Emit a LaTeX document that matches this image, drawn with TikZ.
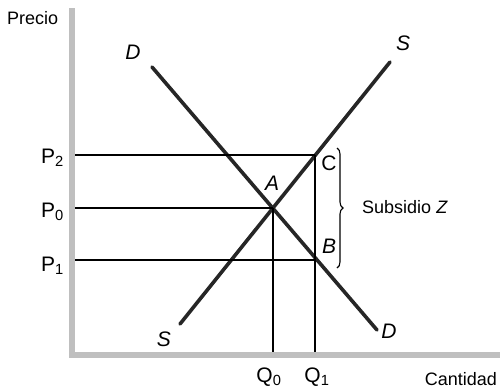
\documentclass[tikz,border=0pt]{standalone}
\usepackage{fontspec}
\setmainfont{Liberation Sans}
\usetikzlibrary{decorations.pathreplacing}
\begin{document}
\begin{tikzpicture}[x=1pt,y=-1pt,
  axis/.style={line width=5.5pt,color=black!25},
  curve/.style={line width=3.6pt,color=black!85,line cap=round},
  guide/.style={line width=1.4pt,color=black},
  lbl/.style={font=\fontsize{18}{20}\selectfont,inner sep=0pt},
  big/.style={font=\fontsize{21}{24}\selectfont,inner sep=0pt}]
\useasboundingbox (0,0) rectangle (500,389);
% axes
\coordinate (yt) at (72,8);
\coordinate (or) at (72,355);
\coordinate (xr) at (500,355);
\draw[axis] (yt) -- (or) -- (xr);
% curves
\coordinate (D1) at (152,67);
\coordinate (D2) at (377,330);
\coordinate (S1) at (180,324);
\coordinate (S2) at (390,62);
\draw[curve] (D1) -- (D2);
\draw[curve] (S1) -- (S2);
% points
\coordinate (A) at (273,208);
\coordinate (C) at (315,155);
\coordinate (B) at (315,260);
\coordinate (p2) at (75,155);
\coordinate (p0) at (75,208);
\coordinate (p1) at (75,260);
\coordinate (q0) at (273,352);
\coordinate (q1) at (315,352);
\draw[guide] (p2) -- (C);
\draw[guide] (p0) -- (A);
\draw[guide] (p1) -- (B);
\draw[guide] (A) -- (q0);
\draw[guide] (C) -- (q1);
% brace
\coordinate (bt) at (337,148);
\coordinate (bb) at (337,268);
\draw[line width=1.1pt,decorate,decoration={brace,amplitude=6pt}] (bt) -- (bb);
% labels
\node[lbl,anchor=west] (precio) at (7,18) {Precio};
\node[lbl,anchor=east] (cant) at (497,379) {Cantidad};
\node[big] (lD1) at (133,52) {\itshape D};
\node[big] (lS2) at (403,43) {\itshape S};
\node[big] (lS1) at (164,339) {\itshape S};
\node[big] (lD2) at (389,331) {\itshape D};
\node[big] (lA) at (272,183) {\itshape A};
\node[big] (lC) at (329,163) {C};
\node[big] (lB) at (329,246) {\itshape B};
\node[lbl,anchor=west] (sub) at (362,207) {Subsidio \itshape Z};
\node[big,anchor=east] (lP2) at (64,158) {P\textsubscript{2}};
\node[big,anchor=east] (lP0) at (64,212) {P\textsubscript{0}};
\node[big,anchor=east] (lP1) at (64,266) {P\textsubscript{1}};
\node[big] (lQ0) at (269,377) {Q\textsubscript{0}};
\node[big] (lQ1) at (317,377) {Q\textsubscript{1}};
\end{tikzpicture}
\end{document}
